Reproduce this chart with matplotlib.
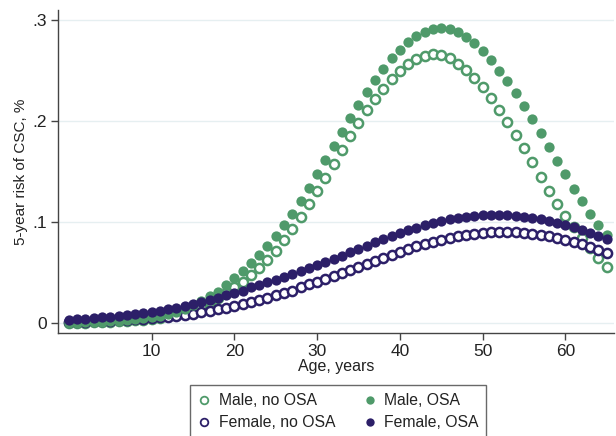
"""
5-year risk of CSC by age, sex and OSA status
"""

import matplotlib.pyplot as plt
from matplotlib.lines import Line2D

plt.rcParams["font.family"] = ["Liberation Sans", "DejaVu Sans"]

GREEN = "#4f9a6a"
PURPLE = "#2c1f68"

ages = list(range(0, 66))

male_no_osa = [
    0.000, 0.000, 0.000, 0.001, 0.001, 0.001, 0.002, 0.002, 0.003, 0.003,
    0.004, 0.005, 0.007, 0.009, 0.011, 0.014, 0.017, 0.021, 0.025, 0.030,
    0.035, 0.040, 0.047, 0.054, 0.062, 0.071, 0.082, 0.093, 0.105, 0.118,
    0.131, 0.144, 0.157, 0.171, 0.185, 0.198, 0.211, 0.222, 0.232, 0.242,
    0.250, 0.257, 0.261, 0.264, 0.266, 0.265, 0.262, 0.257, 0.251, 0.243,
    0.234, 0.223, 0.211, 0.199, 0.186, 0.173, 0.159, 0.145, 0.131, 0.118,
    0.106, 0.095, 0.084, 0.074, 0.064, 0.055,
]

male_osa = [
    0.000, 0.000, 0.001, 0.001, 0.001, 0.002, 0.002, 0.003, 0.004, 0.005,
    0.006, 0.007, 0.009, 0.011, 0.014, 0.018, 0.022, 0.027, 0.031, 0.037,
    0.044, 0.051, 0.059, 0.067, 0.076, 0.086, 0.097, 0.108, 0.121, 0.134,
    0.147, 0.161, 0.175, 0.189, 0.203, 0.216, 0.229, 0.241, 0.252, 0.262,
    0.270, 0.278, 0.284, 0.288, 0.291, 0.292, 0.291, 0.288, 0.283, 0.277,
    0.269, 0.260, 0.250, 0.240, 0.228, 0.215, 0.202, 0.188, 0.174, 0.160,
    0.147, 0.133, 0.121, 0.108, 0.097, 0.087,
]

female_no_osa = [
    0.001, 0.001, 0.001, 0.002, 0.002, 0.002, 0.003, 0.003, 0.004, 0.004,
    0.005, 0.006, 0.006, 0.007, 0.008, 0.009, 0.011, 0.012, 0.014, 0.015,
    0.017, 0.019, 0.021, 0.023, 0.025, 0.028, 0.030, 0.032, 0.035, 0.038,
    0.040, 0.043, 0.046, 0.049, 0.052, 0.055, 0.058, 0.061, 0.064, 0.067,
    0.070, 0.073, 0.076, 0.078, 0.080, 0.082, 0.084, 0.086, 0.087, 0.088,
    0.089, 0.090, 0.090, 0.090, 0.090, 0.089, 0.088, 0.087, 0.086, 0.084,
    0.082, 0.080, 0.078, 0.075, 0.072, 0.069,
]

female_osa = [
    0.003, 0.004, 0.004, 0.005, 0.006, 0.006, 0.007, 0.008, 0.009, 0.010,
    0.011, 0.012, 0.014, 0.015, 0.017, 0.019, 0.021, 0.023, 0.025, 0.028,
    0.030, 0.032, 0.035, 0.037, 0.040, 0.042, 0.045, 0.048, 0.051, 0.054,
    0.057, 0.060, 0.063, 0.066, 0.070, 0.073, 0.076, 0.080, 0.083, 0.086,
    0.089, 0.092, 0.094, 0.097, 0.099, 0.101, 0.103, 0.104, 0.105, 0.106,
    0.107, 0.107, 0.107, 0.107, 0.106, 0.105, 0.104, 0.103, 0.101, 0.099,
    0.097, 0.095, 0.092, 0.089, 0.086, 0.083,
]

x_ticks = [10, 20, 30, 40, 50, 60]
y_ticks = [0, 0.1, 0.2, 0.3]
y_tick_labels = ["0", ".1", ".2", ".3"]

# legend order: column 1 then column 2
legend_labels = ["Male, no OSA", "Female, no OSA", "Male, OSA", "Female, OSA"]


def main():
    fig = plt.figure(figsize=(6.16, 4.36), dpi=100)
    ax = fig.add_axes([0.094, 0.236, 0.903, 0.741])

    for y in y_ticks:
        ax.axhline(y, color="#e6eff1", lw=1.0, zorder=0)

    ms_fill = 7.4
    ms_open = 6.6
    ax.plot(ages, male_no_osa, "o", ms=ms_open, mfc="white", mec=GREEN,
            mew=1.8, clip_on=False, zorder=3)
    ax.plot(ages, male_osa, "o", ms=ms_fill, mfc=GREEN, mec=GREEN, mew=0,
            clip_on=False, zorder=4)
    ax.plot(ages, female_no_osa, "o", ms=ms_open, mfc="white", mec=PURPLE,
            mew=1.8, clip_on=False, zorder=3)
    ax.plot(ages, female_osa, "o", ms=ms_fill, mfc=PURPLE, mec=PURPLE, mew=0,
            clip_on=False, zorder=4)

    ax.set_xlim(-1.33, 65.9)
    ax.set_ylim(-0.0102, 0.31)
    ax.set_xticks(x_ticks)
    ax.set_yticks(y_ticks)
    ax.set_yticklabels(y_tick_labels)

    for side in ("top", "right"):
        ax.spines[side].set_visible(False)
    for side in ("left", "bottom"):
        ax.spines[side].set_color("#444444")
        ax.spines[side].set_linewidth(1.0)
    ax.tick_params(direction="out", length=5, width=1, color="#444444",
                   labelsize=12.5, labelcolor="#222222", pad=3)

    ax.set_xlabel("Age, years", fontsize=11.5, color="#222222", labelpad=0)
    ax.set_ylabel("5-year risk of CSC, %", fontsize=11, color="#222222",
                  labelpad=3)

    handles = [
        Line2D([], [], ls="", marker="o", ms=5.5, mfc="white", mec=GREEN, mew=1.3),
        Line2D([], [], ls="", marker="o", ms=5.5, mfc="white", mec=PURPLE, mew=1.3),
        Line2D([], [], ls="", marker="o", ms=6, mfc=GREEN, mec=GREEN, mew=0),
        Line2D([], [], ls="", marker="o", ms=6, mfc=PURPLE, mec=PURPLE, mew=0),
    ]
    leg = fig.legend(handles, legend_labels, ncol=2, loc="upper center",
                     bbox_to_anchor=(0.549, 0.116), fontsize=11.3,
                     frameon=True, fancybox=False, handlelength=0.8,
                     handletextpad=0.5, columnspacing=1.8, labelspacing=0.45,
                     borderpad=0.5, borderaxespad=0)
    leg.get_frame().set_edgecolor("#444444")
    leg.get_frame().set_linewidth(1.0)
    for t in leg.get_texts():
        t.set_color("#222222")

    fig.savefig("out.png", dpi=100)


if __name__ == "__main__":
    main()
